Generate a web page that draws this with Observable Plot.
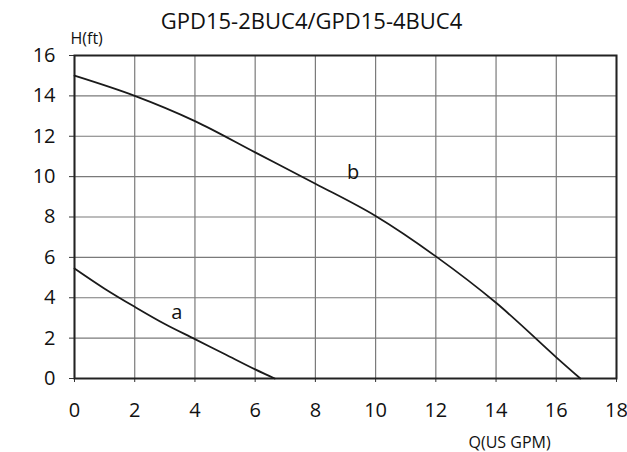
<!DOCTYPE html>
<html>
<head>
<meta charset="utf-8">
<script src="https://cdn.jsdelivr.net/npm/d3@7"></script>
<script src="https://cdn.jsdelivr.net/npm/@observablehq/plot@0.6"></script>
<style>
  html, body { margin: 0; padding: 0; background: #fff; }
  #chart { width: 627px; height: 452px; }
</style>
</head>
<body>
<div id="chart"></div>
<script>
const titleText = "GPD15-2BUC4/GPD15-4BUC4";
const yLabel = "H(ft)";
const xLabel = "Q(US GPM)";
const xTicks = [0, 2, 4, 6, 8, 10, 12, 14, 16, 18];
const yTicks = [0, 2, 4, 6, 8, 10, 12, 14, 16];

// curve a
const qA = [0, 1, 2, 3, 4, 5, 6, 6.65];
const hA = [5.45, 4.45, 3.55, 2.7, 1.95, 1.2, 0.45, 0];
// curve b
const qB = [0, 2, 4, 6, 8, 10, 12, 14, 16, 16.8];
const hB = [15.0, 14.0, 12.75, 11.2, 9.65, 8.05, 6.05, 3.75, 1.05, 0];

const curveLabels = ["a", "b"];
const labelQ = [3.4, 9.25];
const labelH = [3.25, 10.2];

const toRows = (qs, hs) => qs.map((q, i) => ({q, h: hs[i]}));
const labelRows = curveLabels.map((t, i) => ({t, q: labelQ[i], h: labelH[i]}));

const font = "'Open Sans', 'DejaVu Sans', sans-serif";

const chart = Plot.plot({
  width: 627,
  height: 452,
  marginLeft: 74,
  marginRight: 11,
  marginTop: 55,
  marginBottom: 74,
  style: {fontFamily: font, color: "#111", background: "#fff"},
  x: {domain: [0, 18]},
  y: {domain: [0, 16]},
  marks: [
    Plot.gridX(xTicks, {stroke: "#7a7a7a", strokeOpacity: 1, strokeWidth: 1.2}),
    Plot.gridY(yTicks, {stroke: "#7a7a7a", strokeOpacity: 1, strokeWidth: 1.2}),
    Plot.axisX({ticks: xTicks, tickSize: 4, tickPadding: 20, fontSize: 20, label: null, stroke: "#333"}),
    Plot.axisY({ticks: yTicks, tickSize: 5, tickPadding: 14, fontSize: 20, label: null, stroke: "#333"}),
    Plot.frame({stroke: "#222", strokeWidth: 2}),
    Plot.line(toRows(qA, hA), {x: "q", y: "h", curve: "catmull-rom", stroke: "#1a1a1a", strokeWidth: 1.8}),
    Plot.line(toRows(qB, hB), {x: "q", y: "h", curve: "catmull-rom", stroke: "#1a1a1a", strokeWidth: 1.8}),
    Plot.text(labelRows, {x: "q", y: "h", text: "t", fontSize: 20, fill: "#111"}),
    Plot.text([titleText], {frameAnchor: "top-left", dx: 237, dy: -27, textAnchor: "middle", lineAnchor: "bottom", fontSize: 22, fill: "#111"}),
    Plot.text([yLabel], {frameAnchor: "top-left", dx: -4, dy: -12, textAnchor: "start", lineAnchor: "bottom", fontSize: 16, fill: "#111"}),
    Plot.text([xLabel], {frameAnchor: "bottom-left", dx: 394, dy: 69, textAnchor: "start", lineAnchor: "bottom", fontSize: 16, fill: "#111"})
  ]
});
document.getElementById("chart").appendChild(chart);
</script>
</body>
</html>
